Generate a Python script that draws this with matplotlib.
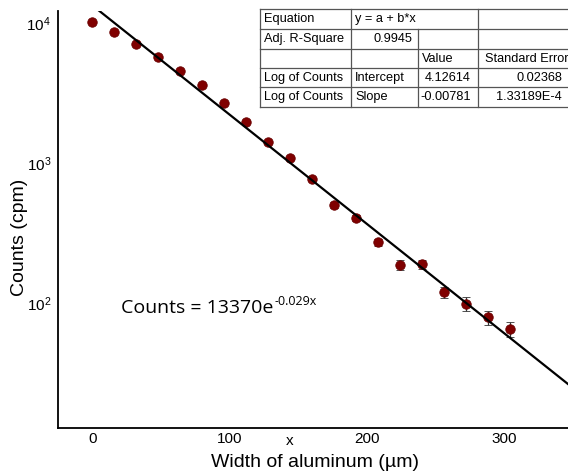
import matplotlib
matplotlib.use("Agg")
import matplotlib.pyplot as plt
import numpy as np

# ---- data ----
widths = [0, 16, 32, 48, 64, 80, 96, 112, 128, 144, 160, 176, 192, 208, 224, 240, 256, 272, 288, 304]
counts = [10100, 8670, 7120, 5720, 4540, 3610, 2670, 1970, 1405, 1086, 769, 501, 407, 271, 187, 189, 119, 99, 79, 65]
errors = [101, 93, 84, 76, 67, 60, 52, 44, 37, 33, 28, 22, 20, 16, 15, 14, 11, 11, 9, 8]

fit_intercept = 4.12614
fit_slope = -0.00781

xticks = [0, 100, 200, 300]
yticks = [100, 1000, 10000]
ytick_labels = [r"$\mathregular{10^2}$", r"$\mathregular{10^3}$", r"$\mathregular{10^4}$"]

table_rows = [
    ["Equation", "y = a + b*x", "", ""],
    ["Adj. R-Square", "0.9945", "", ""],
    ["", "", "Value", "Standard Error"],
    ["Log of Counts", "Intercept", "4.12614", "0.02368"],
    ["Log of Counts", "Slope", "-0.00781", "1.33189E-4"],
]

plt.rcParams['font.family'] = ['Liberation Sans', 'DejaVu Sans']

W, H = 568, 473
fig = plt.figure(figsize=(W / 100, H / 100), dpi=100)

ax_l, ax_r, ax_t, ax_b = 58, 573, 11, 428
ax = fig.add_axes([ax_l / W, 1 - ax_b / H, (ax_r - ax_l) / W, (ax_b - ax_t) / H])
ax.set_yscale('log')
ax.set_xlim(-25, 350)
ax.set_ylim(10 ** 1.107, 10 ** 4.0857)

ax.errorbar(widths, counts, yerr=errors, fmt='o', color='#800000', ecolor='#333333',
            elinewidth=0.9, capsize=3, capthick=0.9, markersize=6.8,
            markeredgecolor='#6a0000', markeredgewidth=0.6, zorder=3)

xf = np.array([-25, 360])
ax.plot(xf, 10 ** (fit_intercept + fit_slope * xf), color='black', lw=1.6, zorder=4)

for s in ['top', 'right']:
    ax.spines[s].set_visible(False)
for s in ['left', 'bottom']:
    ax.spines[s].set_linewidth(1.3)

ax.set_xticks(xticks)
ax.set_xticklabels([str(v) for v in xticks])
ax.yaxis.set_major_locator(matplotlib.ticker.FixedLocator(yticks))
ax.yaxis.set_minor_locator(matplotlib.ticker.NullLocator())
ax.set_yticklabels(ytick_labels)
ax.tick_params(axis='both', length=0, labelsize=11)
ax.tick_params(axis='x', pad=3)
ax.tick_params(axis='y', pad=5)

ax.set_xlabel("Width of aluminum (µm)", fontsize=14)
ax.set_ylabel("Counts (cpm)", fontsize=14)
ax.xaxis.set_label_coords((315 - ax_l) / (ax_r - ax_l), -(462 - ax_b) / (ax_b - ax_t), transform=ax.transAxes)
ax.xaxis.label.set_va('center')
ax.yaxis.set_label_coords(-(ax_l - 20) / (ax_r - ax_l), (ax_b - 237) / (ax_b - ax_t))
ax.yaxis.label.set_va('center')

# overlay in pixel coordinates for texts and table
ov = fig.add_axes([0, 0, 1, 1], zorder=10)
ov.set_xlim(0, W)
ov.set_ylim(H, 0)
ov.axis('off')
ov.patch.set_visible(False)

ov.text(290, 441, "x", fontsize=11, ha='center', va='center')

t1 = ov.text(121, 313, "Counts = 13370e", fontsize=14, ha='left', va='baseline',
             family=['Open Sans', 'DejaVu Sans'])
fig.canvas.draw()
bb = t1.get_window_extent(fig.canvas.get_renderer())
x_end = bb.x1 / fig.dpi * 100
ov.text(x_end + 1, 305, "-0.029x", fontsize=9, ha='left', va='baseline',
        family=['Open Sans', 'DejaVu Sans'])

# table
tl, tr = 260, 580
row_y = [9, 29, 49, 68, 87.5, 107]
col_x = [260, 351, 418, 478, 580]
ov.add_patch(plt.Rectangle((tl, row_y[0]), tr - tl, row_y[-1] - row_y[0],
                           facecolor='white', edgecolor='none', zorder=1))
lc = '#555555'
for y in row_y:
    ov.plot([tl, tr], [y, y], color=lc, lw=0.9, zorder=2)
for i, x in enumerate(col_x[:-1]):
    y0 = row_y[1] if i == 2 else row_y[0]
    ov.plot([x, x], [y0, row_y[-1]], color=lc, lw=0.9, zorder=2)

fs_t = 9.2
for r, row in enumerate(table_rows):
    yc = (row_y[r] + row_y[r + 1]) / 2
    for c, txt in enumerate(row):
        if not txt:
            continue
        if r >= 3 and c == 2:
            ov.text(471, yc, txt, fontsize=fs_t, ha='right', va='center', zorder=3)
        elif r >= 3 and c == 3:
            ov.text(562, yc, txt, fontsize=fs_t, ha='right', va='center', zorder=3)
        elif r == 1 and c == 1:
            ov.text(412, yc, txt, fontsize=fs_t, ha='right', va='center', zorder=3)
        elif r == 2 and c == 3:
            ov.text(485, yc, txt, fontsize=fs_t, ha='left', va='center', zorder=3)
        else:
            ov.text(col_x[c] + 4, yc, txt, fontsize=fs_t, ha='left', va='center', zorder=3)

fig.savefig("out.png", dpi=100)
